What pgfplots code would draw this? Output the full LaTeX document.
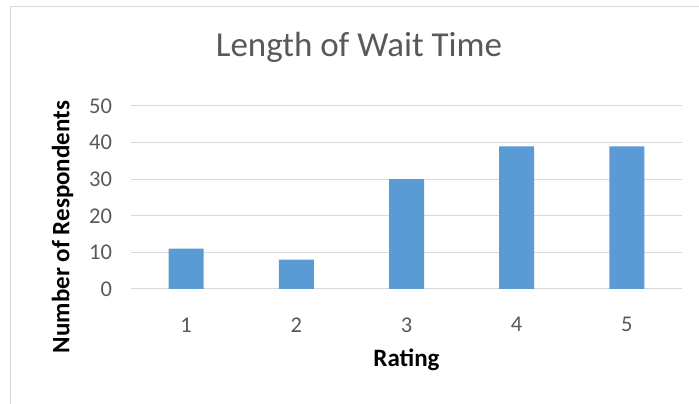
\documentclass[border=0pt]{standalone}
\usepackage{fontspec}
\setmainfont{Carlito}
\usepackage{pgfplots}
\pgfplotsset{compat=1.18}

\definecolor{barblue}{HTML}{5B9BD5}
\definecolor{gridgray}{HTML}{D9D9D9}
\definecolor{textgray}{HTML}{595959}

\begin{document}
\begin{tikzpicture}
\useasboundingbox (0,0) rectangle (699pt,404pt);
\clip (0,0) rectangle (699pt,404pt);
% chart frame (only its left and top edges are in view)
\draw[gridgray, line width=1pt] (10pt,-20pt) -- (10pt,397pt) -- (720pt,397pt);
\begin{axis}[
    scale only axis,
    width=551pt, height=183pt,
    at={(131pt,115pt)}, anchor=south west,
    xmin=0.5, xmax=5.5,
    ymin=0, ymax=50,
    xtick={1,2,3,4,5},
    ytick={0,10,20,30,40,50},
    major tick length=0pt,
    axis line style={draw=none},
    ymajorgrids=true,
    grid style={gridgray, line width=1pt},
    /pgf/number format/assume math mode=true,
    tick label style={font=\fontsize{22.5}{27}\selectfont, text=textgray},
    xticklabel style={yshift=-25pt},
    yticklabel style={xshift=-15.5pt},
    title={Length of Wait Time},
    title style={at={(rel axis cs:0.4138,1.2366)}, anchor=base,
        font=\fontsize{35}{42}\selectfont, text=textgray},
    xlabel={Rating},
    xlabel style={at={(rel axis cs:0.5,-0.4246)}, anchor=base,
        font=\fontsize{25}{30}\selectfont\bfseries},
    ylabel={Number of Respondents},
    ylabel style={at={(rel axis cs:-0.1243,0.339)}, anchor=center,
        font=\fontsize{25}{30}\selectfont\bfseries},
]
\addplot[ybar, bar width=35pt, bar shift=0pt, fill=barblue, draw=none]
    coordinates {(1,11) (2,8) (3,30) (4,39) (5,39)};
\end{axis}
\end{tikzpicture}
\end{document}
